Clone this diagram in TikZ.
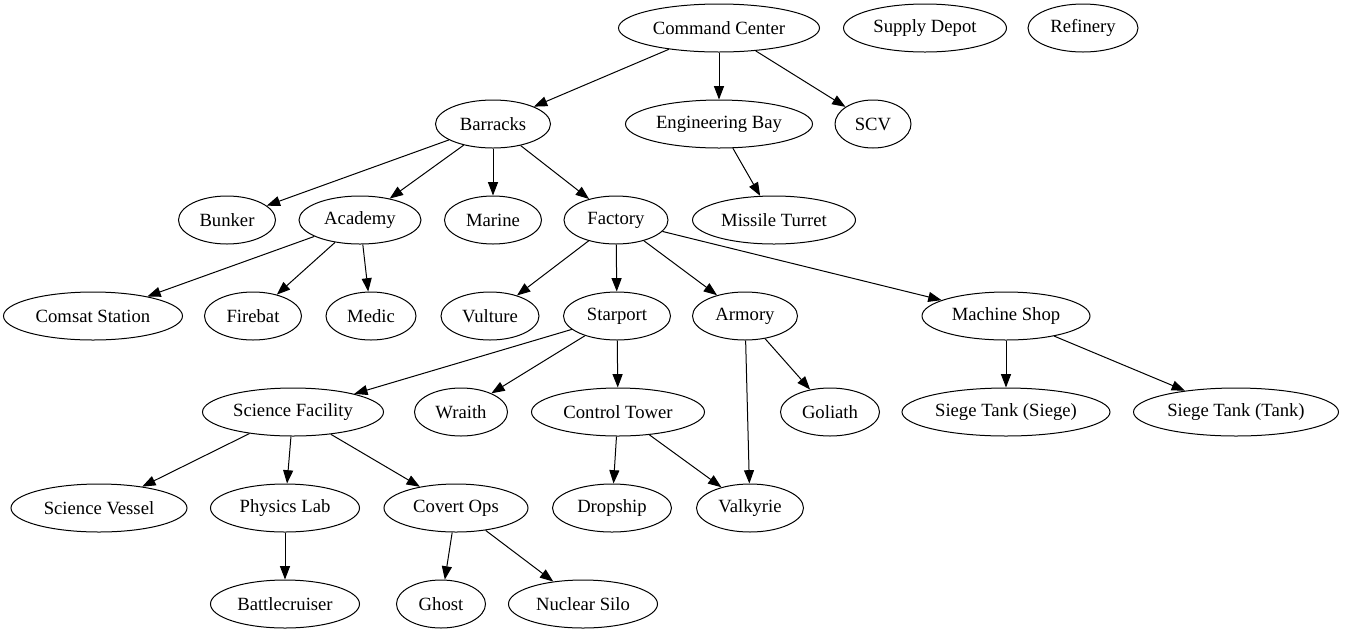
\documentclass[tikz,border=0pt]{standalone}
\usepackage{fontspec}
\setmainfont{Liberation Serif}
\newfontfamily\treefont{Liberation Serif}
\usetikzlibrary{shapes.geometric,arrows.meta}

\begin{document}
\begin{tikzpicture}[x=0.75pt,y=-0.75pt,
  unit/.style={draw,ellipse,line width=0.75pt,inner sep=0pt,minimum height=36pt,
    minimum width=#1*0.75pt,font=\treefont\fontsize{14pt}{16pt}\selectfont},
  dep/.style={-{Triangle[length=10pt,width=7.5pt]},line width=0.75pt}]
\useasboundingbox (0,0) rectangle (1350,633);
% row 1
\node [unit=201] (cc) at (719,28) {Command Center};
\node [unit=163] (depot) at (925,28) {Supply Depot};
\node [unit=110] (refinery) at (1083,28) {Refinery};
% row 2
\node [unit=115] (barracks) at (493,124) {Barracks};
\node [unit=187] (ebay) at (719,124) {Engineering Bay};
\node [unit=76] (scv) at (873,124) {SCV};
% row 3
\node [unit=97] (bunker) at (227,220) {Bunker};
\node [unit=122] (academy) at (360,220) {Academy};
\node [unit=97] (marine) at (493,220) {Marine};
\node [unit=104] (factory) at (616,220) {Factory};
\node [unit=163] (turret) at (774,220) {Missile Turret};
% row 4
\node [unit=179] (comsat) at (93,316) {Comsat Station};
\node [unit=97] (firebat) at (253,316) {Firebat};
\node [unit=90] (medic) at (371,316) {Medic};
\node [unit=98] (vulture) at (490,316) {Vulture};
\node [unit=107] (starport) at (617,316) {Starport};
\node [unit=105] (armory) at (745,316) {Armory};
\node [unit=168] (mshop) at (1006,316) {Machine Shop};
% row 5
\node [unit=181] (scifac) at (293,412) {Science Facility};
\node [unit=93] (wraith) at (461,412) {Wraith};
\node [unit=173] (ctower) at (618,412) {Control Tower};
\node [unit=99] (goliath) at (830,412) {Goliath};
\node [unit=208] (siege) at (1006,412) {Siege Tank (Siege)};
\node [unit=205] (tank) at (1236,412) {Siege Tank (Tank)};
% row 6
\node [unit=176] (vessel) at (99,508) {Science Vessel};
\node [unit=149] (plab) at (285,508) {Physics Lab};
\node [unit=144] (covops) at (456,508) {Covert Ops};
\node [unit=119] (dropship) at (612,508) {Dropship};
\node [unit=107] (valk) at (750,508) {Valkyrie};
% row 7
\node [unit=149] (bcruiser) at (285,604) {Battlecruiser};
\node [unit=89] (ghost) at (441,604) {Ghost};
\node [unit=149] (nuke) at (583,604) {Nuclear Silo};
% tech tree
\draw [dep] (cc) -- (barracks);
\draw [dep] (cc) -- (ebay);
\draw [dep] (cc) -- (scv);
\draw [dep] (barracks) -- (bunker);
\draw [dep] (barracks) -- (academy);
\draw [dep] (barracks) -- (marine);
\draw [dep] (barracks) -- (factory);
\draw [dep] (ebay) -- (turret);
\draw [dep] (academy) -- (comsat);
\draw [dep] (academy) -- (firebat);
\draw [dep] (academy) -- (medic);
\draw [dep] (factory) -- (vulture);
\draw [dep] (factory) -- (starport);
\draw [dep] (factory) -- (armory);
\draw [dep] (factory) -- (mshop);
\draw [dep] (starport) -- (scifac);
\draw [dep] (starport) -- (wraith);
\draw [dep] (starport) -- (ctower);
\draw [dep] (armory) -- (valk);
\draw [dep] (armory) -- (goliath);
\draw [dep] (mshop) -- (siege);
\draw [dep] (mshop) -- (tank);
\draw [dep] (scifac) -- (vessel);
\draw [dep] (scifac) -- (plab);
\draw [dep] (scifac) -- (covops);
\draw [dep] (ctower) -- (dropship);
\draw [dep] (ctower) -- (valk);
\draw [dep] (plab) -- (bcruiser);
\draw [dep] (covops) -- (ghost);
\draw [dep] (covops) -- (nuke);
\end{tikzpicture}
\end{document}
